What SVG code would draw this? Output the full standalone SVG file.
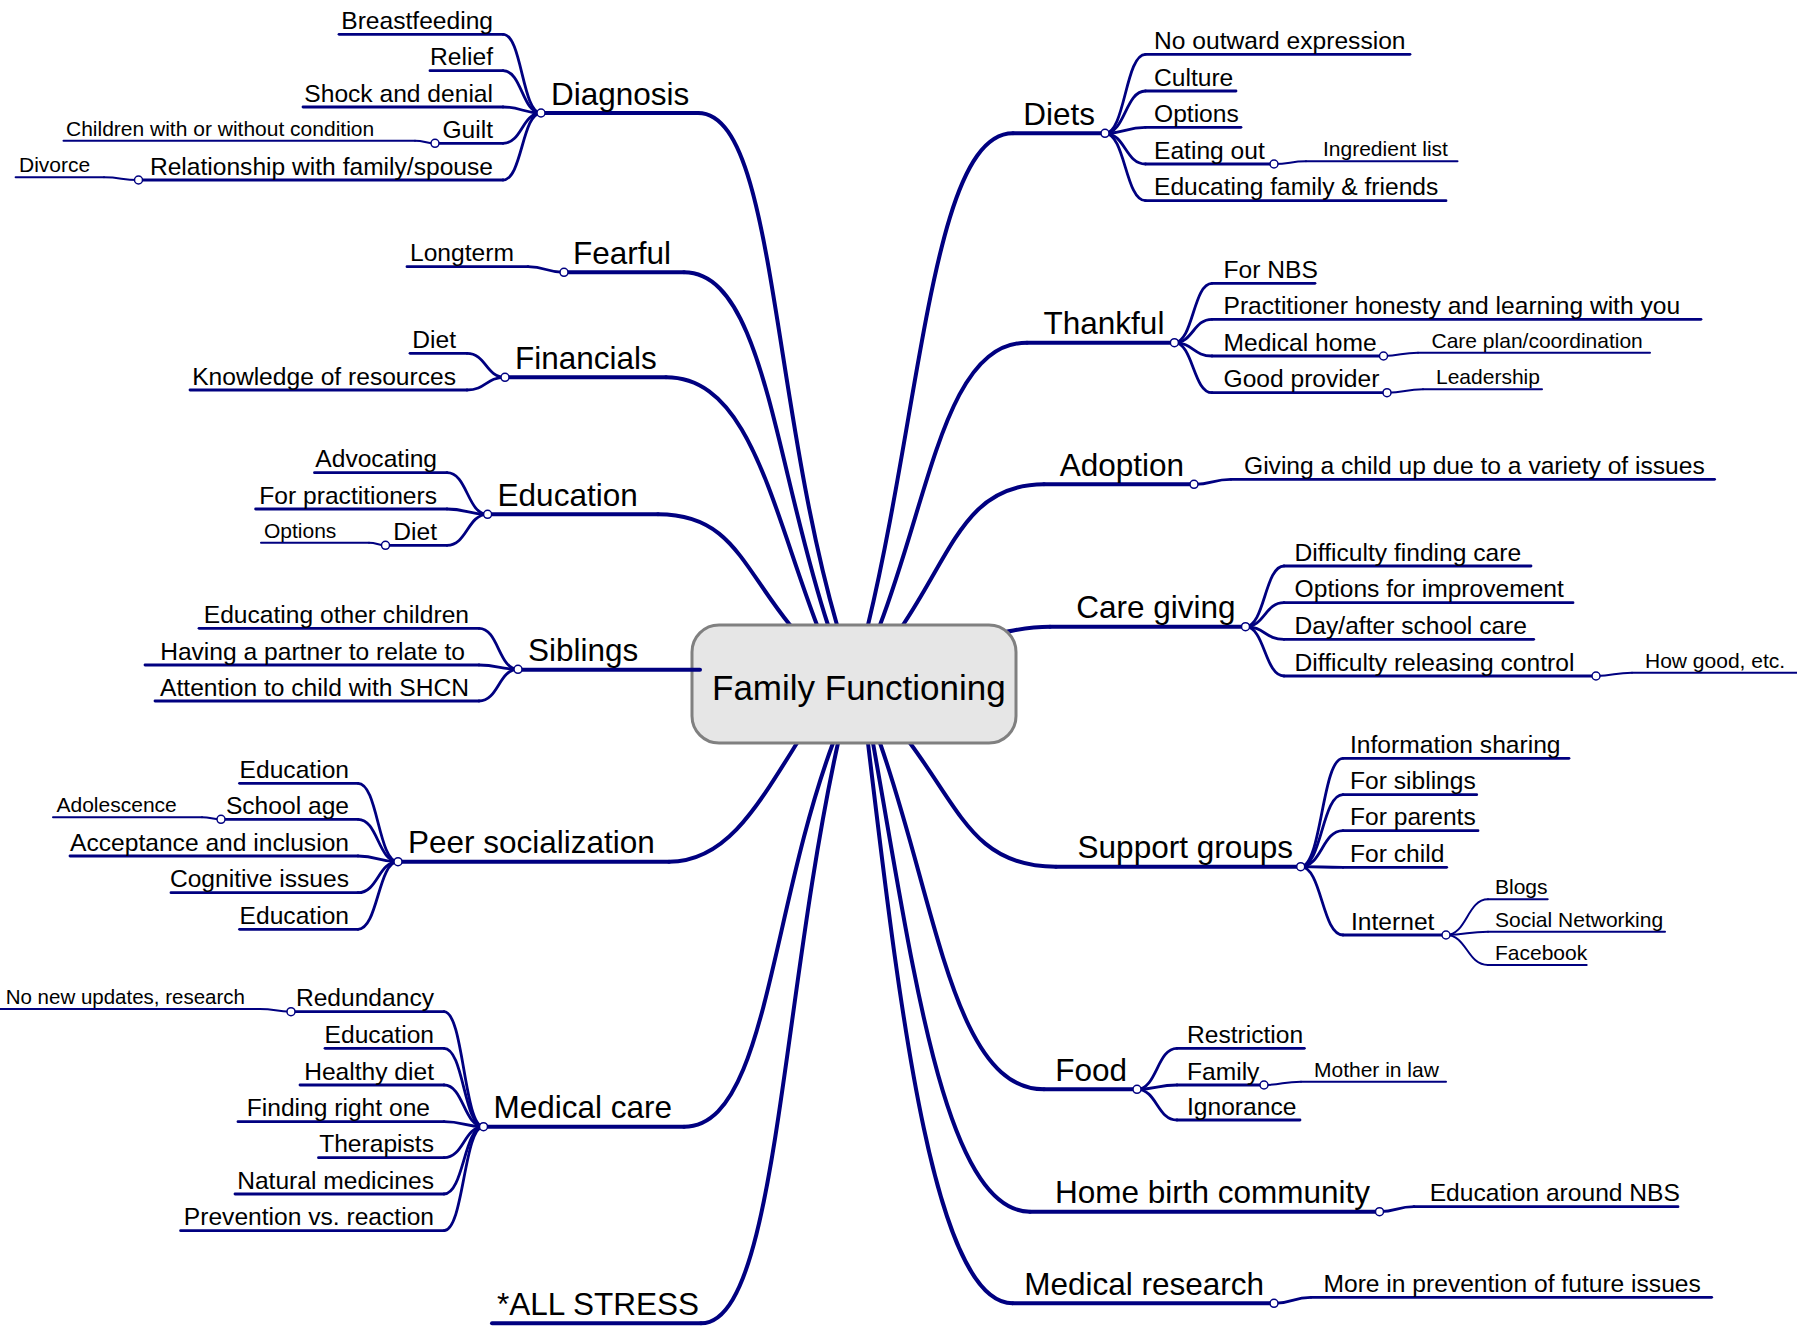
<svg xmlns="http://www.w3.org/2000/svg" width="1797" height="1331" viewBox="0 0 1797 1331">
<style>
.cn{fill:none;stroke:#000080;stroke-linecap:round;stroke-linejoin:round}
.w1{stroke-width:4}
.w2{stroke-width:2.8}
.w3{stroke-width:2}
text{font-family:"Liberation Sans",Arial,sans-serif;fill:#000}
.t0{font-size:35px}
.t1{font-size:31.5px}
.t2{font-size:24.6px}
.t3{font-size:21px}
.e{text-anchor:end}
.dot{fill:#fff;stroke:#000080;stroke-width:1.5}
.hub{fill:#e6e6e6;stroke:#808080;stroke-width:3}
</style>
<rect width="1797" height="1331" fill="#fff"/>
<g id="connectors">
<g class="cn w1">
<path d="M698 113C774.5 113 770.6 395.6 837 625L854 685"/>
<path d="M684 272.3C763.2 272.3 774.3 462.1 828 625L854 685"/>
<path d="M666 377.3C749 377.3 770.7 503 817 625L854 685"/>
<path d="M658 514.3C730.6 514.3 741.3 564.8 790 625L854 685"/>
<path d="M693 669.3L854 685"/>
<path d="M669 861.7C725 861.7 755.5 809.7 797 743L854 685"/>
<path d="M684 1126.7C766 1126.7 768.8 916.5 833 743L854 685"/>
<path d="M701 1323.3C776.4 1323.3 780.4 1004.8 838 743L854 685"/>
<path d="M1013 133.3C933.3 133.3 921.8 400.8 868 625L854 685"/>
<path d="M1027 342.7C946.2 342.7 930.8 491.1 880 625L854 685"/>
<path d="M1044 484.3C966.5 484.3 952.9 550.6 903 625L854 685"/>
<path d="M1050 626.7C1030 626.7 1022 629 1005 632L854 685"/>
<path d="M1056 866.7C975.7 866.7 961.2 812.1 910 743L854 685"/>
<path d="M1044 1089.3C953.8 1089.3 936.9 905.7 880 743L854 685"/>
<path d="M1030 1211.7C943.7 1211.7 912.4 961.8 873 743L854 685"/>
<path d="M1012.6 1303.3C933.1 1303.3 899 1001.6 868 743L854 685"/>
</g>
<g class="cn w2">
<path d="M503 34.3C522 34.3 522 113 541 113"/>
<path d="M503 70.7C522 70.7 522 113 541 113"/>
<path d="M503 107C522 107 522 113 541 113"/>
<path d="M503 143.3C522 143.3 522 113 541 113"/>
<path d="M503 180C522 180 522 113 541 113"/>
<path d="M528 266.7C546 266.7 546 272.3 564 272.3"/>
<path d="M467 353.3C486 353.3 486 377.3 505 377.3"/>
<path d="M467 390C486 390 486 377.3 505 377.3"/>
<path d="M447 472.7C467.3 472.7 467.3 514.3 487.6 514.3"/>
<path d="M447 509C467.3 509 467.3 514.3 487.6 514.3"/>
<path d="M447 545.3C467.3 545.3 467.3 514.3 487.6 514.3"/>
<path d="M479 628.3C498.5 628.3 498.5 669.3 518 669.3"/>
<path d="M479 665C498.5 665 498.5 669.3 518 669.3"/>
<path d="M479 701C498.5 701 498.5 669.3 518 669.3"/>
<path d="M358 783.3C378 783.3 378 861.7 398 861.7"/>
<path d="M358 819.3C378 819.3 378 861.7 398 861.7"/>
<path d="M358 856C378 856 378 861.7 398 861.7"/>
<path d="M358 892.7C378 892.7 378 861.7 398 861.7"/>
<path d="M358 929.3C378 929.3 378 861.7 398 861.7"/>
<path d="M444 1011.7C463.8 1011.7 463.8 1126.7 483.5 1126.7"/>
<path d="M444 1048.3C463.8 1048.3 463.8 1126.7 483.5 1126.7"/>
<path d="M444 1085C463.8 1085 463.8 1126.7 483.5 1126.7"/>
<path d="M444 1121.7C463.8 1121.7 463.8 1126.7 483.5 1126.7"/>
<path d="M444 1157.7C463.8 1157.7 463.8 1126.7 483.5 1126.7"/>
<path d="M444 1194C463.8 1194 463.8 1126.7 483.5 1126.7"/>
<path d="M444 1230.7C463.8 1230.7 463.8 1126.7 483.5 1126.7"/>
<path d="M1105 133.3C1125.3 133.3 1125.3 54.3 1145.5 54.3"/>
<path d="M1105 133.3C1125.3 133.3 1125.3 91 1145.5 91"/>
<path d="M1105 133.3C1125.3 133.3 1125.3 127.3 1145.5 127.3"/>
<path d="M1105 133.3C1125.3 133.3 1125.3 164 1145.5 164"/>
<path d="M1105 133.3C1125.3 133.3 1125.3 200.7 1145.5 200.7"/>
<path d="M1174.4 342.7C1193.2 342.7 1193.2 283.3 1212 283.3"/>
<path d="M1174.4 342.7C1193.2 342.7 1193.2 319.3 1212 319.3"/>
<path d="M1174.4 342.7C1193.2 342.7 1193.2 356 1212 356"/>
<path d="M1174.4 342.7C1193.2 342.7 1193.2 392.7 1212 392.7"/>
<path d="M1194 484.3C1212.5 484.3 1212.5 479.3 1231 479.3"/>
<path d="M1245.5 626.7C1264.8 626.7 1264.8 566 1284 566"/>
<path d="M1245.5 626.7C1264.8 626.7 1264.8 602.7 1284 602.7"/>
<path d="M1245.5 626.7C1264.8 626.7 1264.8 639.3 1284 639.3"/>
<path d="M1245.5 626.7C1264.8 626.7 1264.8 676 1284 676"/>
<path d="M1300.7 866.7C1321.9 866.7 1321.9 758.3 1343 758.3"/>
<path d="M1300.7 866.7C1321.9 866.7 1321.9 794.7 1343 794.7"/>
<path d="M1300.7 866.7C1321.9 866.7 1321.9 830.7 1343 830.7"/>
<path d="M1300.7 866.7C1321.9 866.7 1321.9 867.3 1343 867.3"/>
<path d="M1300.7 866.7C1321.9 866.7 1321.9 935 1343 935"/>
<path d="M1137 1089.3C1157 1089.3 1157 1048.3 1177 1048.3"/>
<path d="M1137 1089.3C1157 1089.3 1157 1085 1177 1085"/>
<path d="M1137 1089.3C1157 1089.3 1157 1120 1177 1120"/>
<path d="M1379.5 1211.7C1396.8 1211.7 1396.8 1206.7 1414 1206.7"/>
<path d="M1274 1303.3C1292.5 1303.3 1292.5 1297.3 1311 1297.3"/>
</g>
<g class="cn w3">
<path d="M415 140.7C425 140.7 425 143.3 435 143.3"/>
<path d="M104 177.3C121.3 177.3 121.3 180 138.5 180"/>
<path d="M369 542.7C377.3 542.7 377.3 545.3 385.5 545.3"/>
<path d="M202 817.3C211.5 817.3 211.5 819.3 221 819.3"/>
<path d="M260 1009C275.5 1009 275.5 1011.7 291 1011.7"/>
<path d="M1274 164C1290 164 1290 161.3 1306 161.3"/>
<path d="M1383.5 356C1400.8 356 1400.8 352.7 1418 352.7"/>
<path d="M1387 392.7C1405 392.7 1405 389.3 1423 389.3"/>
<path d="M1596 676C1614 676 1614 672.7 1632 672.7"/>
<path d="M1446 935C1467 935 1467 899.3 1488 899.3"/>
<path d="M1446 935C1467 935 1467 931.7 1488 931.7"/>
<path d="M1446 935C1467 935 1467 965 1488 965"/>
<path d="M1264 1085C1282.5 1085 1282.5 1081.7 1301 1081.7"/>
</g>
</g>

<g id="family-functioning">
<rect class="hub" x="692" y="625" width="324" height="118" rx="27"/>
<text class="t0" x="712" y="700">Family Functioning</text>
</g>

<!-- Left main topics -->
<g id="diagnosis"><path class="cn w1" d="M698 113H541"/><text class="t1" x="551" y="104.7">Diagnosis</text><circle class="dot" cx="541" cy="113" r="4"/></g>
<g id="breastfeeding"><path class="cn w2" d="M339 34.3H503"/><text class="t2 e" x="493" y="28.8">Breastfeeding</text></g>
<g id="relief"><path class="cn w2" d="M430 70.7H503"/><text class="t2 e" x="493" y="65.2">Relief</text></g>
<g id="shock-and-denial"><path class="cn w2" d="M303 107H503"/><text class="t2 e" x="493" y="101.5">Shock and denial</text></g>
<g id="guilt"><path class="cn w2" d="M435 143.3H503"/><text class="t2 e" x="493" y="137.8">Guilt</text><circle class="dot" cx="435" cy="143.3" r="4"/></g>
<g id="children-condition"><path class="cn w3" d="M63.5 140.7H415"/><text class="t3" x="66" y="135.7">Children with or without condition</text></g>
<g id="relationship"><path class="cn w2" d="M138.5 180H503"/><text class="t2 e" x="493" y="174.5">Relationship with family/spouse</text><circle class="dot" cx="138.5" cy="180" r="4"/></g>
<g id="divorce"><path class="cn w3" d="M15.6 177.3H104"/><text class="t3" x="19" y="172.3">Divorce</text></g>

<g id="fearful"><path class="cn w1" d="M684 272.3H564"/><text class="t1" x="573" y="264">Fearful</text><circle class="dot" cx="564" cy="272.3" r="4"/></g>
<g id="longterm"><path class="cn w2" d="M407 266.7H528"/><text class="t2" x="410" y="261.2">Longterm</text></g>

<g id="financials"><path class="cn w1" d="M666 377.3H505"/><text class="t1" x="515" y="369">Financials</text><circle class="dot" cx="505" cy="377.3" r="4"/></g>
<g id="financials-diet"><path class="cn w2" d="M410 353.3H467"/><text class="t2 e" x="456" y="347.8">Diet</text></g>
<g id="knowledge"><path class="cn w2" d="M190 390H467"/><text class="t2 e" x="456" y="384.5">Knowledge of resources</text></g>

<g id="education"><path class="cn w1" d="M658 514.3H487.6"/><text class="t1" x="497.6" y="506">Education</text><circle class="dot" cx="487.6" cy="514.3" r="4"/></g>
<g id="advocating"><path class="cn w2" d="M314.5 472.7H447"/><text class="t2 e" x="437" y="467.2">Advocating</text></g>
<g id="for-practitioners"><path class="cn w2" d="M255.6 509H447"/><text class="t2 e" x="437" y="503.5">For practitioners</text></g>
<g id="education-diet"><path class="cn w2" d="M385.5 545.3H447"/><text class="t2 e" x="437" y="539.8">Diet</text><circle class="dot" cx="385.5" cy="545.3" r="4"/></g>
<g id="education-diet-options"><path class="cn w3" d="M261 542.7H369"/><text class="t3" x="264" y="537.7">Options</text></g>

<g id="siblings"><path class="cn w1" d="M700 669.8H518"/><text class="t1" x="528" y="661">Siblings</text><circle class="dot" cx="518" cy="669.3" r="4"/></g>
<g id="educating-other-children"><path class="cn w2" d="M199 628.3H479"/><text class="t2 e" x="469" y="622.8">Educating other children</text></g>
<g id="partner"><path class="cn w2" d="M145 665H479"/><text class="t2 e" x="465" y="659.5">Having a partner to relate to</text></g>
<g id="attention"><path class="cn w2" d="M155 701H479"/><text class="t2 e" x="469" y="695.5">Attention to child with SHCN</text></g>

<g id="peer-socialization"><path class="cn w1" d="M669 861.7H398"/><text class="t1" x="408" y="853.4">Peer socialization</text><circle class="dot" cx="398" cy="861.7" r="4"/></g>
<g id="peer-education-1"><path class="cn w2" d="M239.5 783.3H358"/><text class="t2 e" x="349" y="777.8">Education</text></g>
<g id="school-age"><path class="cn w2" d="M221 819.3H358"/><text class="t2 e" x="349" y="813.8">School age</text><circle class="dot" cx="221" cy="819.3" r="4"/></g>
<g id="adolescence"><path class="cn w3" d="M53 817.3H202"/><text class="t3" x="56.5" y="812.3">Adolescence</text></g>
<g id="acceptance"><path class="cn w2" d="M70 856H358"/><text class="t2 e" x="349" y="850.5">Acceptance and inclusion</text></g>
<g id="cognitive"><path class="cn w2" d="M171 892.7H358"/><text class="t2 e" x="349" y="887.2">Cognitive issues</text></g>
<g id="peer-education-2"><path class="cn w2" d="M239.5 929.3H358"/><text class="t2 e" x="349" y="923.8">Education</text></g>

<g id="medical-care"><path class="cn w1" d="M684 1126.7H483.5"/><text class="t1" x="493.5" y="1118.4">Medical care</text><circle class="dot" cx="483.5" cy="1126.7" r="4"/></g>
<g id="redundancy"><path class="cn w2" d="M291 1011.7H444"/><text class="t2 e" x="434" y="1006.2">Redundancy</text><circle class="dot" cx="291" cy="1011.7" r="4"/></g>
<g id="no-new-updates"><path class="cn w3" d="M0 1009H260"/><text class="t3 e" x="245" y="1004" style="font-size:20.5px">No new updates, research</text></g>
<g id="medical-education"><path class="cn w2" d="M325 1048.3H444"/><text class="t2 e" x="434" y="1042.8">Education</text></g>
<g id="healthy-diet"><path class="cn w2" d="M300 1085H444"/><text class="t2 e" x="434" y="1079.5">Healthy diet</text></g>
<g id="finding-right-one"><path class="cn w2" d="M238 1121.7H444"/><text class="t2 e" x="430" y="1116.2">Finding right one</text></g>
<g id="therapists"><path class="cn w2" d="M318.5 1157.7H444"/><text class="t2 e" x="434" y="1152.2">Therapists</text></g>
<g id="natural-medicines"><path class="cn w2" d="M235 1194H444"/><text class="t2 e" x="434" y="1188.5">Natural medicines</text></g>
<g id="prevention"><path class="cn w2" d="M180.6 1230.7H444"/><text class="t2 e" x="434" y="1225.2">Prevention vs. reaction</text></g>

<g id="all-stress"><path class="cn w1" d="M701 1323.3H492"/><text class="t1" x="497" y="1315">*ALL STRESS</text></g>

<!-- Right main topics -->
<g id="diets"><path class="cn w1" d="M1013 133.3H1105"/><text class="t1 e" x="1095" y="125">Diets</text><circle class="dot" cx="1105" cy="133.3" r="4"/></g>
<g id="no-outward-expression"><path class="cn w2" d="M1145.5 54.3H1410"/><text class="t2" x="1154" y="48.8">No outward expression</text></g>
<g id="culture"><path class="cn w2" d="M1145.5 91H1236"/><text class="t2" x="1154" y="85.5">Culture</text></g>
<g id="diets-options"><path class="cn w2" d="M1145.5 127.3H1241"/><text class="t2" x="1154" y="121.8">Options</text></g>
<g id="eating-out"><path class="cn w2" d="M1145.5 164H1274"/><text class="t2" x="1154" y="158.5">Eating out</text><circle class="dot" cx="1274" cy="164" r="4"/></g>
<g id="ingredient-list"><path class="cn w3" d="M1306 161.3H1457.5"/><text class="t3" x="1323" y="156.3">Ingredient list</text></g>
<g id="educating-family"><path class="cn w2" d="M1145.5 200.7H1446"/><text class="t2" x="1154" y="195.2">Educating family &amp; friends</text></g>

<g id="thankful"><path class="cn w1" d="M1027 342.7H1174.4"/><text class="t1 e" x="1164.4" y="334.4">Thankful</text><circle class="dot" cx="1174.4" cy="342.7" r="4"/></g>
<g id="for-nbs"><path class="cn w2" d="M1212 283.3H1315"/><text class="t2" x="1223.5" y="277.8">For NBS</text></g>
<g id="practitioner-honesty"><path class="cn w2" d="M1212 319.3H1701"/><text class="t2" x="1223.5" y="313.8">Practitioner honesty and learning with you</text></g>
<g id="medical-home"><path class="cn w2" d="M1212 356H1383.5"/><text class="t2" x="1223.5" y="350.5">Medical home</text><circle class="dot" cx="1383.5" cy="356" r="4"/></g>
<g id="care-plan"><path class="cn w3" d="M1418 352.7H1650"/><text class="t3" x="1431.5" y="347.7">Care plan/coordination</text></g>
<g id="good-provider"><path class="cn w2" d="M1212 392.7H1387"/><text class="t2" x="1223.5" y="387.2">Good provider</text><circle class="dot" cx="1387" cy="392.7" r="4"/></g>
<g id="leadership"><path class="cn w3" d="M1423 389.3H1542"/><text class="t3" x="1436" y="384.3">Leadership</text></g>

<g id="adoption"><path class="cn w1" d="M1044 484.3H1194"/><text class="t1 e" x="1184" y="476">Adoption</text><circle class="dot" cx="1194" cy="484.3" r="4"/></g>
<g id="giving-a-child-up"><path class="cn w2" d="M1231 479.3H1714.6"/><text class="t2" x="1244" y="473.8">Giving a child up due to a variety of issues</text></g>

<g id="care-giving"><path class="cn w1" d="M1050 626.7H1245.5"/><text class="t1 e" x="1235.5" y="618.4">Care giving</text><circle class="dot" cx="1245.5" cy="626.7" r="4"/></g>
<g id="difficulty-finding-care"><path class="cn w2" d="M1284 566H1531"/><text class="t2" x="1294.6" y="560.5">Difficulty finding care</text></g>
<g id="options-for-improvement"><path class="cn w2" d="M1284 602.7H1573"/><text class="t2" x="1294.6" y="597.2">Options for improvement</text></g>
<g id="day-after-school-care"><path class="cn w2" d="M1284 639.3H1533.7"/><text class="t2" x="1294.6" y="633.8">Day/after school care</text></g>
<g id="difficulty-releasing-control"><path class="cn w2" d="M1284 676H1596"/><text class="t2" x="1294.6" y="670.5">Difficulty releasing control</text><circle class="dot" cx="1596" cy="676" r="4"/></g>
<g id="how-good"><path class="cn w3" d="M1632 672.7H1797"/><text class="t3" x="1645" y="667.7">How good, etc.</text></g>

<g id="support-groups"><path class="cn w1" d="M1056 866.7H1300.7"/><text class="t1 e" x="1293" y="858.4">Support groups</text><circle class="dot" cx="1300.7" cy="866.7" r="4"/></g>
<g id="information-sharing"><path class="cn w2" d="M1343 758.3H1569"/><text class="t2" x="1350" y="752.8">Information sharing</text></g>
<g id="for-siblings"><path class="cn w2" d="M1343 794.7H1476.7"/><text class="t2" x="1350" y="789.2">For siblings</text></g>
<g id="for-parents"><path class="cn w2" d="M1343 830.7H1478"/><text class="t2" x="1350" y="825.2">For parents</text></g>
<g id="for-child"><path class="cn w2" d="M1343 867.3H1446.7"/><text class="t2" x="1350" y="861.8">For child</text></g>
<g id="internet"><path class="cn w2" d="M1343 935H1446"/><text class="t2" x="1351" y="929.5">Internet</text><circle class="dot" cx="1446" cy="935" r="4"/></g>
<g id="blogs"><path class="cn w3" d="M1488 899.3H1547.7"/><text class="t3" x="1495" y="894.3">Blogs</text></g>
<g id="social-networking"><path class="cn w3" d="M1488 931.7H1665"/><text class="t3" x="1495" y="926.7">Social Networking</text></g>
<g id="facebook"><path class="cn w3" d="M1488 965H1586.7"/><text class="t3" x="1495" y="960">Facebook</text></g>

<g id="food"><path class="cn w1" d="M1044 1089.3H1137"/><text class="t1 e" x="1127" y="1081">Food</text><circle class="dot" cx="1137" cy="1089.3" r="4"/></g>
<g id="restriction"><path class="cn w2" d="M1177 1048.3H1304.4"/><text class="t2" x="1187" y="1042.8">Restriction</text></g>
<g id="family"><path class="cn w2" d="M1177 1085H1264"/><text class="t2" x="1187" y="1079.5">Family</text><circle class="dot" cx="1264" cy="1085" r="4"/></g>
<g id="mother-in-law"><path class="cn w3" d="M1301 1081.7H1446"/><text class="t3" x="1314" y="1076.7">Mother in law</text></g>
<g id="ignorance"><path class="cn w2" d="M1177 1120H1300"/><text class="t2" x="1187" y="1114.5">Ignorance</text></g>

<g id="home-birth-community"><path class="cn w1" d="M1030 1211.7H1379.5"/><text class="t1 e" x="1370" y="1203.4">Home birth community</text><circle class="dot" cx="1379.5" cy="1211.7" r="4"/></g>
<g id="education-around-nbs"><path class="cn w2" d="M1414 1206.7H1678"/><text class="t2" x="1429.7" y="1201.2">Education around NBS</text></g>

<g id="medical-research"><path class="cn w1" d="M1012.6 1303.3H1274"/><text class="t1 e" x="1264" y="1295">Medical research</text><circle class="dot" cx="1274" cy="1303.3" r="4"/></g>
<g id="more-in-prevention"><path class="cn w2" d="M1311 1297.3H1711.7"/><text class="t2" x="1323.5" y="1291.8">More in prevention of future issues</text></g>
</svg>
